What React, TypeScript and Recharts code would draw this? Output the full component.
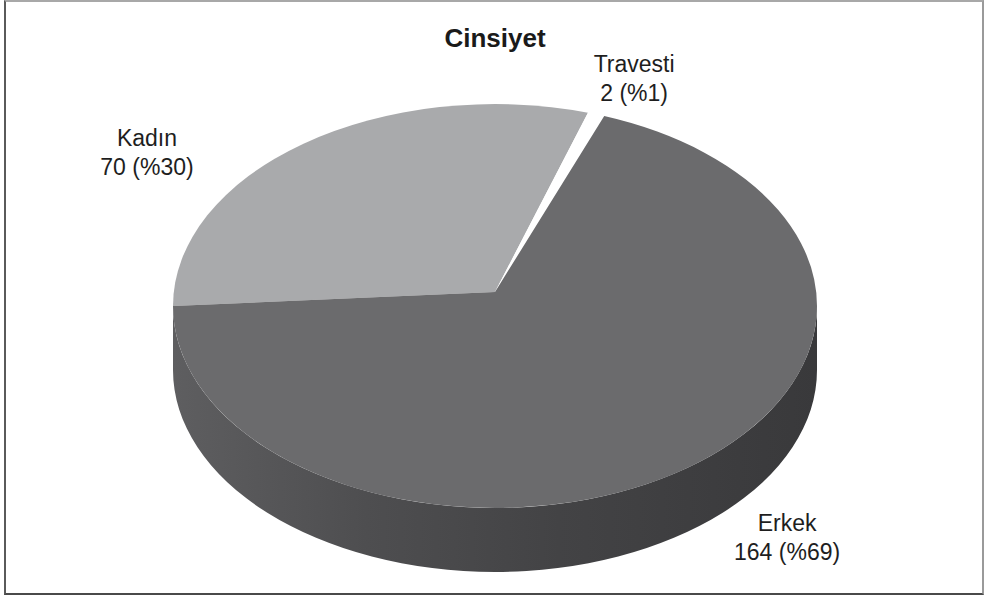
import React from 'react';
import { PieChart, Pie } from 'recharts';

// gender breakdown (count + rounded share)
const categories = ['Kadın', 'Travesti', 'Erkek'];
const counts = [70, 2, 164];
const shareLabels = ['%30', '%1', '%69'];
const sliceColors = ['#a9aaac', '#ffffff', '#6b6b6d'];
const wallColors = ['#7e7f81', '#e6e6e6', 'url(#erkekWall)'];

const data = categories.map((name, i) => ({ name, value: counts[i] }));

// fake 3D look: squash the circle into an ellipse and add a side wall
const CX = 495;
const CY = 306;
const RX = 322;
const TILT = 0.627;
const DEPTH = 64;
const APEX_LIFT = 14;
const labelNudge = [[-156, 2], [38, -42], [107, 60]];
const FONT = '"Liberation Sans", Arial, sans-serif';

const renderSlice = (props: any) => {
  const { cx, cy, outerRadius, startAngle, endAngle, index } = props;
  const rx = outerRadius;
  const ry = outerRadius * TILT;
  const pt = (a: number, dy = 0) => {
    const r = (a * Math.PI) / 180;
    return [cx + rx * Math.cos(r), cy - ry * Math.sin(r) + dy];
  };
  const hi = Math.max(startAngle, endAngle);
  const lo = Math.min(startAngle, endAngle);
  const [sx, sy] = pt(hi);
  const [ex, ey] = pt(lo);
  const large = hi - lo > 180 ? 1 : 0;
  const face = `M${cx},${cy - APEX_LIFT} L${sx},${sy} A${rx},${ry} 0 ${large} 1 ${ex},${ey} Z`;

  // side wall only where the slice is on the front half
  const walls: string[] = [];
  [[-540, -360], [-180, 0], [180, 360]].forEach(([a, b]) => {
    const h = Math.min(hi, b);
    const l = Math.max(lo, a);
    if (h - l > 0.01) {
      const [x1, y1] = pt(h);
      const [x2, y2] = pt(l);
      walls.push(
        `M${x1},${y1} A${rx},${ry} 0 0 1 ${x2},${y2} L${x2},${y2 + DEPTH} A${rx},${ry} 0 0 0 ${x1},${y1 + DEPTH} Z`
      );
    }
  });

  const mid = (hi + lo) / 2;
  const [mx, my] = pt(mid);
  const tx = mx + labelNudge[index][0];
  const ty = my + labelNudge[index][1];

  return (
    <g key={`slice-${index}`}>
      {index === 0 && (
        <defs>
          <linearGradient id="erkekWall" gradientUnits="userSpaceOnUse" x1={cx - rx} y1={0} x2={cx + rx} y2={0}>
            <stop offset="0" stopColor="#5e5e60" />
            <stop offset="0.3" stopColor="#4e4e50" />
            <stop offset="0.6" stopColor="#434345" />
            <stop offset="1" stopColor="#39393b" />
          </linearGradient>
        </defs>
      )}
      {walls.map((d, i) => (
        <path key={i} d={d} fill={wallColors[index]} stroke="none" />
      ))}
      <path d={face} fill={sliceColors[index]} stroke="none" />
      <text x={tx} y={ty} textAnchor="middle" fontFamily={FONT} fontSize={23} fill="#1e1e1e">
        <tspan x={tx} dy={0}>{categories[index]}</tspan>
        <tspan x={tx} dy={29}>{`${counts[index]} (${shareLabels[index]})`}</tspan>
      </text>
    </g>
  );
};

export default function App() {
  return (
    <div style={{ position: 'absolute', left: 0, top: 0, width: 984, height: 595, background: '#fff' }}>
      <div
        style={{
          position: 'absolute',
          left: 4,
          top: 0,
          width: 980,
          height: 595,
          boxSizing: 'border-box',
          borderTop: '2px solid #a8a8a8',
          borderLeft: '2px solid #5a5a5a',
          borderRight: '2px solid #9a9a9a',
          borderBottom: '2px solid #4a4a4a',
        }}
      />
      <div
        style={{
          position: 'absolute',
          left: 0,
          top: 25,
          width: 990,
          textAlign: 'center',
          fontFamily: FONT,
          fontWeight: 'bold',
          fontSize: 26,
          lineHeight: '26px',
          color: '#1a1a1a',
        }}
      >
        Cinsiyet
      </div>
      <div style={{ position: 'absolute', left: 0, top: 0 }}>
        <PieChart width={984} height={595} margin={{ top: 0, right: 0, bottom: 0, left: 0 }}>
          <Pie
            data={data}
            dataKey="value"
            nameKey="name"
            cx={CX}
            cy={CY}
            outerRadius={RX}
            startAngle={180}
            endAngle={-180}
            fill="none"
            stroke="none"
            label={renderSlice}
            labelLine={false}
            isAnimationActive={false}
          />
        </PieChart>
      </div>
    </div>
  );
}
